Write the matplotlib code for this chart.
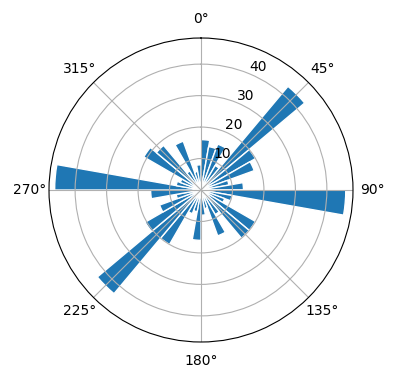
import numpy as np
import matplotlib
matplotlib.use("Agg")
import matplotlib.pyplot as plt

# Bin centres (degrees, clockwise from north) and bar lengths
bin_centers_deg = [5, 15, 25, 35, 45, 55, 65, 75, 85,
                   95, 105, 115, 125, 135, 145, 155, 165, 175,
                   185, 195, 205, 215, 225, 235, 245, 255, 265,
                   275, 285, 295, 305, 315, 325, 335, 345, 355]
counts = [16, 14, 15.5, 9, 43, 20, 18, 9, 13.5,
          46, 10, 8, 20, 20, 9, 15.5, 6, 8,
          16, 7, 8, 20, 43, 20.5, 14, 8, 16,
          46.5, 8, 7, 21, 18.5, 7, 16.5, 6, 8]
bin_width_deg = 10
r_ticks = [10, 20, 30, 40]

fig = plt.figure(figsize=(3.96, 3.8), dpi=100)
ax = fig.add_axes([49/396, 38/380, 304/396, 304/380], projection='polar')
ax.set_theta_zero_location('N')
ax.set_theta_direction(-1)
ax.bar(np.deg2rad(bin_centers_deg), counts, width=np.deg2rad(bin_width_deg),
       color='#1f77b4', edgecolor='white', linewidth=1)
ax.set_rlim(0, 48.3)
ax.set_rticks(r_ticks)
fig.savefig('out.png', dpi=100)
